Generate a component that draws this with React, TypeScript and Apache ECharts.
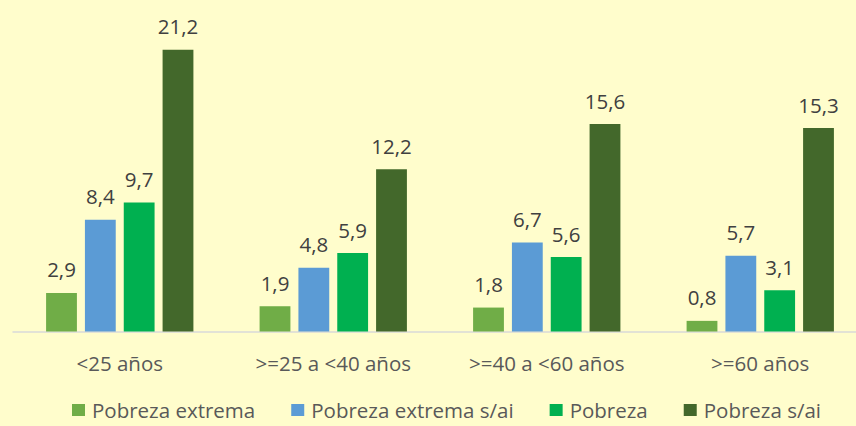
import React, { useEffect, useRef } from "react";
import * as echarts from "echarts";

const categories = ["<25 años", ">=25 a <40 años", ">=40 a <60 años", ">=60 años"];
const seriesNames = ["Pobreza extrema", "Pobreza extrema s/ai", "Pobreza", "Pobreza s/ai"];
const pobrezaExtrema = [2.9, 1.9, 1.8, 0.8];
const pobrezaExtremaSai = [8.4, 4.8, 6.7, 5.7];
const pobreza = [9.7, 5.9, 5.6, 3.1];
const pobrezaSai = [21.2, 12.2, 15.6, 15.3];
const colors = ["#70AD47", "#5B9BD5", "#00B050", "#43682B"];

export default function App() {
  const ref = useRef<HTMLDivElement>(null);
  useEffect(() => {
    document.body.style.margin = "0";
    document.body.style.overflow = "hidden";
    const chart = echarts.init(ref.current!, null, { renderer: "svg" });
    const font = "'Open Sans', 'Noto Sans', sans-serif";
    const values = [pobrezaExtrema, pobrezaExtremaSai, pobreza, pobrezaSai];
    chart.setOption({
      animation: false,
      backgroundColor: "#FFFDCC",
      textStyle: { fontFamily: font },
      legend: {
        bottom: 0,
        left: 67,
        icon: "rect",
        itemWidth: 13,
        itemHeight: 12,
        itemGap: 36,
        textStyle: { color: "#595959", fontSize: 20.5, lineHeight: 22, fontFamily: font, padding: [0, 0, 0, 2] },
        data: seriesNames,
      },
      grid: { left: 13, top: 39, right: 0, height: 292.5, containLabel: false },
      xAxis: {
        type: "category",
        data: categories,
        axisLine: { lineStyle: { color: "#D9D9D9", width: 1.5 } },
        axisTick: { show: false },
        axisLabel: { color: "#595959", fontSize: 20.5, margin: 21, fontFamily: font },
      },
      yAxis: {
        type: "value",
        min: 0,
        max: 22,
        show: false,
        splitLine: { show: false },
      },
      series: seriesNames.map((name, i) => ({
        name,
        type: "bar",
        data: values[i],
        barGap: "26%",
        barCategoryGap: "31%",
        itemStyle: { color: colors[i] },
        label: {
          show: true,
          position: "top",
          distance: 13,
          color: "#404040",
          fontSize: 20.5,
          fontFamily: font,
          formatter: (p: any) => String(p.value).replace(".", ","),
        },
      })),
    });
    return () => chart.dispose();
  }, []);
  return <div ref={ref} style={{ width: 867, height: 426 }} />;
}
